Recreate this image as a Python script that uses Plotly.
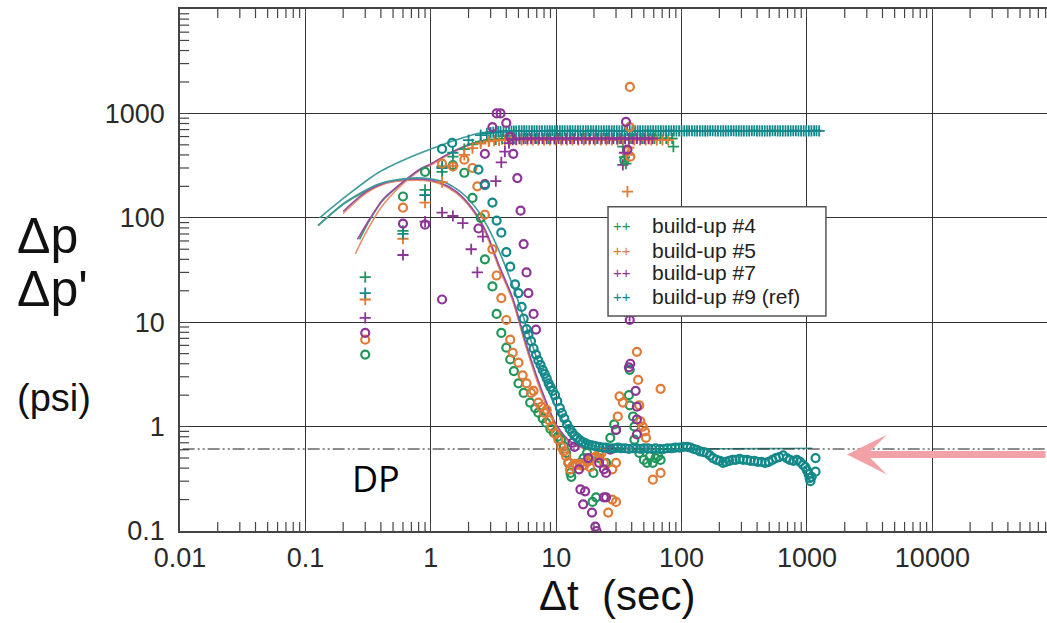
import plotly.graph_objects as go

# ---------------- data (Δt in s, Δp / Δp' in psi) ----------------
series_names = ["build-up #4", "build-up #5", "build-up #7", "build-up #9 (ref)"]
series_colors = ["#21965a", "#e07a36", "#8c3596", "#14898a"]
model_colors = ["#3d9e6e", "#e9926e", "#9a4aa2", "#3f9a9a"]

dp_level = 0.61  # DP (dash-dot line)

x_tick_vals = [0.01, 0.1, 1, 10, 100, 1000, 10000]
x_tick_text = ["0.01", "0.1", "1", "10", "100", "1000", "10000"]
y_tick_vals = [0.1, 1, 10, 100, 1000]
y_tick_text = ["0.1", "1", "10", "100", "1000"]

# pressure change (crosses)
bu4_dp = [(0.30, 27), (0.60, 75), (0.90, 185), (0.90, 165), (1.23, 310), (1.23, 275), (1.5, 385),
          (1.85, 455), (2.15, 505), (2.5, 535), (2.9, 555), (3.3, 565), (3.7, 570), (4.1, 572),
          (4.6, 574), (5.1, 575), (5.7, 576), (6.3, 575), (7.0, 576), (7.8, 575), (8.7, 576),
          (9.7, 575), (10.8, 576), (12, 575), (13.4, 576), (15, 575), (16.7, 576), (18.6, 575),
          (20.7, 576), (23, 575), (25.7, 576), (28.6, 575), (31.9, 576), (35.5, 575), (39.5, 576),
          (44, 575), (49, 576), (54.6, 575), (60.8, 576), (67.7, 575), (75.4, 576), (84, 575),
          (34, 480), (35, 380), (36, 330), (86, 480)]
bu5_dp = [(0.30, 16.5), (0.60, 63), (0.90, 140), (1.23, 220), (1.5, 315), (1.85, 400), (2.15, 465),
          (2.5, 515), (2.9, 540), (3.2, 548), (3.5, 552), (3.9, 555), (4.3, 556), (4.8, 557),
          (5.3, 556), (5.9, 557), (6.5, 556), (7.2, 557), (8.0, 556), (8.9, 557), (9.9, 556),
          (11, 557), (12.2, 556), (13.5, 557), (15, 556), (16.6, 557), (18.4, 556), (20.4, 557),
          (22.6, 556), (25.1, 557), (27.8, 556), (30.8, 557), (34.2, 556), (37.9, 557), (42, 556),
          (46.6, 557), (51.7, 556), (57.3, 557), (63.5, 556), (70.4, 557), (78, 556),
          (37, 178), (37, 400), (38, 470)]
bu7_dp = [(0.30, 11), (0.60, 44), (0.90, 92), (1.23, 112), (1.5, 104), (1.8, 89), (2.1, 50),
          (2.35, 30), (2.6, 66), (3.3, 225), (3.65, 340), (3.9, 430), (4.2, 520), (4.5, 560),
          (4.8, 568), (5.1, 572), (5.5, 574), (5.9, 575), (6.3, 574), (6.8, 575), (7.3, 574),
          (7.8, 575), (8.4, 574), (9, 575), (9.7, 574), (10.4, 575), (11.2, 574), (12, 575),
          (12.9, 574), (13.9, 575), (14.9, 574), (16, 575), (17.2, 574), (18.5, 575), (19.9, 574),
          (21.4, 575), (23, 574), (24.7, 575), (26.5, 574), (28.5, 575), (30.6, 574), (32.9, 575),
          (35.4, 574), (38, 575), (40.9, 574), (44, 575), (47.3, 574), (50.8, 575), (54.6, 574),
          (58.7, 575), (34, 321), (35, 420), (38.5, 11.5)]
bu9_dp = [(0.30, 19), (0.60, 70), (0.90, 165), (1.23, 300), (1.5, 420), (2.0, 555), (2.5, 620),
          (2.8, 645), (3.0, 655), (3.15, 660), (3.3, 665), (3.45, 668), (3.6, 670), (3.8, 672),
          (4.0, 674), (4.2, 675), (4.4, 676), (4.6, 677), (4.8, 678), (5.05, 679), (5.3, 679),
          (5.55, 680), (5.8, 680), (6.1, 680), (6.4, 680), (6.7, 681), (7.0, 681), (7.35, 680),
          (7.7, 680), (8.1, 681), (8.5, 681), (8.9, 682), (9.3, 682), (9.75, 681), (10.2, 681),
          (10.7, 680), (11.2, 680), (11.7, 681), (12.3, 681), (12.9, 682), (13.5, 682), (14.2, 681),
          (14.9, 681), (15.6, 680), (16.4, 680), (17.2, 681), (18.0, 681), (18.9, 682), (19.8, 682),
          (20.8, 681), (21.8, 680), (22.9, 681), (24.0, 681), (25.2, 682), (26.4, 682), (27.7, 681),
          (29.0, 681), (30.4, 680), (31.9, 680), (33.5, 681), (35.1, 681), (36.8, 682), (38.6, 682),
          (40.5, 681), (42.5, 681), (44.6, 680), (46.7, 680), (49.0, 681), (51.4, 681), (53.9, 682),
          (56.5, 682), (59.3, 681), (62.2, 681), (65.3, 680), (68.4, 680), (71.7, 681), (75.2, 681),
          (79.0, 682), (82.8, 682), (86.8, 681), (91, 681), (95.5, 680), (100, 680), (105, 681),
          (110, 681), (115, 682), (121, 682), (127, 681), (133, 681), (140, 680), (147, 680),
          (154, 681), (161, 681), (169, 682), (177, 682), (186, 681), (195, 681), (205, 680),
          (215, 680), (225, 681), (236, 681), (248, 682), (260, 682), (273, 681), (286, 681),
          (300, 680), (314, 680), (330, 681), (346, 681), (363, 682), (380, 682), (399, 681),
          (418, 681), (439, 680), (460, 680), (483, 681), (506, 681), (531, 682), (557, 682),
          (584, 681), (612, 681), (642, 680), (674, 680), (707, 681), (741, 681), (777, 682),
          (815, 682), (855, 681), (897, 681), (941, 680), (986, 680), (1035, 681), (1085, 681),
          (1140, 682), (1190, 682), (1250, 681)]

# pressure derivative (circles)
bu4_der = [(0.30, 4.9), (0.60, 160), (0.90, 275), (1.5, 320), (1.85, 270), (2.15, 155), (2.5, 100),
           (2.7, 40), (3.1, 22), (3.35, 12), (3.65, 7.9), (4.0, 5.7), (4.3, 4.4), (4.6, 3.4),
           (5.0, 2.6), (5.5, 2.1), (6.2, 1.7), (6.8, 1.5), (7.2, 1.36), (7.8, 1.2), (8.3, 1.09),
           (9.0, 0.95), (9.6, 0.87), (10.3, 0.8), (10.9, 0.75), (11.5, 0.65), (12, 0.56),
           (12.5, 0.45), (13, 0.36), (13.2, 0.33), (15.6, 0.45), (16.5, 0.5), (17.6, 0.56),
           (18.5, 0.48), (19.8, 0.36), (19.5, 0.19), (20.8, 0.21), (22, 0.5), (25, 0.45),
           (27, 0.78), (29, 1.05), (30, 0.93), (35, 355), (38.6, 3.5), (38, 2.0), (38.6, 1.6),
           (41, 1.25), (42, 1.0), (42, 0.75), (46, 0.56), (50, 0.48), (53, 0.45), (56, 0.52),
           (59, 0.45), (62, 0.5), (65, 0.52), (68, 0.48)]
bu5_der = [(0.30, 6.8), (0.60, 125), (1.23, 330), (1.5, 310), (1.85, 360), (2.15, 300), (2.35, 200),
           (2.7, 107), (3.1, 50), (3.35, 28), (3.65, 17), (4.0, 10.5), (4.3, 6.8), (4.5, 5.1),
           (5.0, 4.1), (5.4, 3.1), (5.8, 2.6), (6.3, 2.1), (6.6, 2.2), (7.2, 1.7), (7.6, 1.55),
           (8.0, 1.36), (8.4, 1.45), (8.8, 1.15), (9.2, 1.0), (9.9, 0.85), (10.4, 0.75), (11, 0.64),
           (11.5, 0.58), (12, 0.52), (12.5, 0.46), (12.9, 0.39), (13.5, 0.42), (14.1, 0.44),
           (14.7, 0.43), (15.5, 0.44), (16.2, 0.42), (16.8, 0.43), (17.7, 0.46), (18.6, 0.48),
           (18.6, 0.41), (19.6, 0.5), (20.8, 0.52), (22, 0.55), (23, 0.56), (24, 0.45), (26, 0.15),
           (28, 0.39), (28, 0.2), (30, 0.45), (30, 0.19), (31, 1.25), (32, 1.95), (34, 1.7),
           (38.7, 1795), (38.5, 740), (39, 385), (44, 5.2), (45, 2.8), (46, 1.6), (47, 1.12),
           (49, 1.0), (51, 0.9), (52, 0.78), (59, 0.31), (68, 0.36), (68, 2.3)]
bu7_der = [(0.30, 7.9), (0.60, 88), (0.90, 86), (1.23, 16.5), (2.4, 79), (2.7, 210), (2.7, 410),
           (3.1, 740), (3.35, 1000), (3.6, 1000), (4.0, 810), (4.3, 600), (4.55, 410), (4.9, 240),
           (5.2, 117), (5.5, 56), (5.8, 30), (6.0, 19), (6.6, 12), (6.9, 8.5), (13.5, 0.7),
           (14, 0.64), (15.2, 0.39), (15.6, 0.25), (16.4, 0.18), (17, 0.24), (18, 0.5), (19.3, 0.15),
           (20.5, 0.11), (21, 0.1), (22, 0.45), (24, 0.21), (25, 0.21), (24, 0.39), (25, 0.36),
           (27, 0.6), (30, 0.93), (38, 3.7), (39, 4.0), (43, 2.2), (44, 1.55), (44, 1.17),
           (44, 0.84), (36, 830), (37, 450), (38.6, 10.5)]
bu9_der = [(1.23, 457), (1.48, 522), (2.4, 290), (2.7, 205), (3.1, 140), (3.35, 94), (3.65, 72),
           (4.0, 47), (4.3, 34), (4.7, 23), (5.0, 19), (5.3, 14), (5.5, 10.8), (5.8, 8.6), (6.0, 7.6),
           (6.3, 6.6), (6.6, 5.6), (6.9, 4.9), (7.2, 4.3), (7.5, 3.9), (7.8, 3.5), (8.1, 3.2),
           (8.4, 2.9), (8.7, 2.6), (9.0, 2.4), (9.4, 2.2), (9.8, 2.0), (10.2, 1.75), (10.7, 1.5),
           (11.1, 1.35), (11.6, 1.2), (12.2, 1.05), (12.8, 0.95), (13.4, 0.88), (14.0, 0.82),
           (14.7, 0.78), (15.5, 0.74), (16.3, 0.71), (17.2, 0.69), (18.2, 0.67), (19.3, 0.66),
           (20.5, 0.65), (22, 0.64), (23.5, 0.63), (25, 0.63), (27, 0.62), (29, 0.62), (31, 0.63),
           (33, 0.62), (35.5, 0.62), (38, 0.61), (41, 0.62), (44, 0.62), (47, 0.61), (50, 0.62),
           (54, 0.62), (58, 0.61), (62, 0.62), (67, 0.61), (72, 0.61), (77, 0.62), (83, 0.62),
           (89, 0.63), (96, 0.63), (103, 0.64), (111, 0.64), (118, 0.63), (125, 0.61), (132, 0.6),
           (140, 0.58), (150, 0.57), (159, 0.56), (168, 0.53), (178, 0.5), (190, 0.48), (202, 0.47),
           (214, 0.45), (226, 0.46), (240, 0.47), (255, 0.48), (270, 0.48), (290, 0.49), (310, 0.48),
           (333, 0.48), (355, 0.47), (380, 0.47), (405, 0.46), (435, 0.46), (465, 0.45), (495, 0.46),
           (530, 0.48), (565, 0.5), (600, 0.51), (645, 0.53), (690, 0.5), (730, 0.48), (780, 0.47),
           (830, 0.48), (880, 0.46), (930, 0.43), (970, 0.41), (1000, 0.38), (1030, 0.35),
           (1050, 0.32), (1065, 0.3), (1090, 0.33), (1170, 0.5), (1170, 0.37)]

# model curves
m4_dp = [(0.27, 62), (0.33, 98), (0.42, 150), (0.57, 207), (0.82, 290), (1.0, 325), (1.5, 430),
         (2.47, 540), (3.6, 560), (6, 570), (80, 570)]
m5_dp = [(0.25, 45), (0.3, 70), (0.4, 125), (0.57, 200), (0.82, 285), (1.0, 320), (1.5, 425),
         (2.47, 535), (3.6, 555), (6, 560), (80, 560)]
m7_dp = [(0.26, 62), (0.33, 100), (0.42, 152), (0.57, 210), (0.82, 292), (1.0, 328), (1.5, 432),
         (2.47, 542), (3.6, 562), (6, 572), (60, 572)]
m9_dp = [(0.13, 100), (0.21, 160), (0.38, 270), (0.72, 390), (1.18, 490), (1.85, 590),
         (2.47, 650), (3.35, 670), (5, 678), (1200, 680)]
m4_der = [(0.126, 84), (0.21, 140), (0.39, 207), (0.65, 232), (0.87, 232), (1.18, 215), (1.6, 175),
          (2.15, 120), (2.75, 72), (3.5, 34), (4.5, 16.5), (5.8, 5.8), (7.5, 2.3), (10, 1.0),
          (13, 0.7), (17, 0.62), (25, 0.61), (80, 0.61)]
m5_der = [(0.2, 110), (0.3, 170), (0.45, 215), (0.65, 228), (0.87, 228), (1.18, 212), (1.6, 172),
          (2.15, 118), (2.75, 70), (3.5, 33), (4.5, 16), (5.8, 5.6), (7.5, 2.2), (10, 0.98),
          (13, 0.7), (17, 0.62), (25, 0.61), (80, 0.61)]
m7_der = [(0.2, 115), (0.3, 175), (0.45, 220), (0.65, 234), (0.87, 234), (1.18, 218), (1.6, 178),
          (2.15, 122), (2.75, 74), (3.5, 35), (4.5, 17), (5.8, 6), (7.5, 2.4), (10, 1.05),
          (13, 0.72), (17, 0.63), (25, 0.62), (60, 0.62)]
m9_der = [(0.126, 84), (0.21, 142), (0.39, 212), (0.7, 240), (0.95, 238), (1.3, 218), (1.8, 170),
          (2.4, 115), (3.0, 72), (3.8, 38), (4.8, 18), (6.0, 8), (7.5, 3.5), (9.5, 1.7),
          (12.2, 1.0), (14.7, 0.8), (18.6, 0.67), (25, 0.63), (1100, 0.62)]


def unzip(pairs):
    return [p[0] for p in pairs], [p[1] for p in pairs]


dp_sets = [bu4_dp, bu5_dp, bu7_dp, bu9_dp]
der_sets = [bu4_der, bu5_der, bu7_der, bu9_der]
mdp_sets = [m4_dp, m5_dp, m7_dp, m9_dp]
mder_sets = [m4_der, m5_der, m7_der, m9_der]

x_range = [-2, 4.914]
y_range = [-1, 4]
x_min, x_max = 10 ** x_range[0], 10 ** x_range[1]
y_min, y_max = 10 ** y_range[0], 10 ** y_range[1]

fig = go.Figure()

# minor log ticks (2..9 of each decade): short markers centred on the frame, half clipped away
minor_x = [m * 10.0 ** e for e in range(-2, 5) for m in range(2, 10) if m * 10.0 ** e < x_max]
minor_y = [m * 10.0 ** e for e in range(-1, 4) for m in range(2, 10)]
tick_mark = dict(size=13, color="#444", line=dict(color="#444", width=1.2))
fig.add_trace(go.Scatter(x=minor_x + minor_x, y=[y_min] * len(minor_x) + [y_max] * len(minor_x),
                         mode="markers", marker=dict(tick_mark, symbol="line-ns"),
                         hoverinfo="skip", showlegend=False, cliponaxis=True))
fig.add_trace(go.Scatter(x=[x_min] * len(minor_y), y=minor_y, mode="markers",
                         marker=dict(tick_mark, symbol="line-ew"),
                         hoverinfo="skip", showlegend=False, cliponaxis=True))

# model lines
for i in range(4):
    for s in (mdp_sets[i], mder_sets[i]):
        x, y = unzip(s)
        fig.add_trace(go.Scatter(x=x, y=y, mode="lines", line=dict(color=model_colors[i], width=1.6,
                                 shape="spline", smoothing=0.8), hoverinfo="skip", showlegend=False))

# DP level line
fig.add_trace(go.Scatter(x=[0.0105, 100000], y=[dp_level, dp_level], mode="lines",
                         line=dict(color="#1a1a1a", width=1.1, dash="12px,3px,2px,3px,2px,3px"),
                         showlegend=False, hoverinfo="skip"))

# crosses (Δp)
for i in range(4):
    x, y = unzip(dp_sets[i])
    fig.add_trace(go.Scatter(x=x, y=y, mode="markers", name=series_names[i], showlegend=False,
                             marker=dict(symbol="cross-thin", size=8,
                                         line=dict(color=series_colors[i], width=1.8))))
# circles (Δp')
for i in range(4):
    x, y = unzip(der_sets[i])
    fig.add_trace(go.Scatter(x=x, y=y, mode="markers", showlegend=False,
                             marker=dict(symbol="circle-open", size=8, color=series_colors[i],
                                         line=dict(color=series_colors[i], width=2.2))))

tick_font = dict(family="Liberation Sans, Arial, sans-serif", size=27, color="#2a2a2a")
axis_common = dict(type="log", ticks="inside", ticklen=8, tickwidth=1.2, tickcolor="#444",
                   showline=True, linecolor="#444", linewidth=1.5, showgrid=True,
                   gridcolor="#333333", gridwidth=1.4, zeroline=False, tickfont=tick_font)

fig.update_layout(
    width=1047, height=623,
    margin=dict(l=180, r=0, t=9, b=92),
    paper_bgcolor="white", plot_bgcolor="white",
    showlegend=False,
    xaxis=dict(axis_common, range=x_range, tickmode="array", tickvals=x_tick_vals,
               ticktext=x_tick_text, mirror="ticks", ticklabelstandoff=2),
    yaxis=dict(axis_common, range=y_range, tickmode="array", tickvals=y_tick_vals,
               ticktext=y_tick_text, mirror=False, ticklabelstandoff=8),
)

# legend box
leg_x0, leg_x1, leg_y0, leg_y1 = 0.4937, 0.745, 0.412, 0.621
fig.add_shape(type="rect", xref="paper", yref="paper", x0=leg_x0, x1=leg_x1, y0=leg_y0,
              y1=leg_y1, line=dict(color="#555", width=1.5), fillcolor="white", layer="above")

lab_font = "Liberation Sans, Arial, sans-serif"
ann = [
    dict(text="Δp", x=-0.19, y=0.565, xref="paper", yref="paper", xanchor="left", yanchor="middle",
         showarrow=False, font=dict(family=lab_font, size=50, color="#111")),
    dict(text="Δp'", x=-0.19, y=0.463, xref="paper", yref="paper", xanchor="left", yanchor="middle",
         showarrow=False, font=dict(family=lab_font, size=50, color="#111")),
    dict(text="(psi)", x=-0.19, y=0.255, xref="paper", yref="paper", xanchor="left", yanchor="middle",
         showarrow=False, font=dict(family=lab_font, size=38, color="#111")),
    dict(text="Δt  (sec)", x=0.504, y=-0.1245, xref="paper", yref="paper", xanchor="center",
         yanchor="middle", showarrow=False, font=dict(family=lab_font, size=42, color="#111")),
    dict(text="DP", x=0.226, y=0.1015, xref="paper", yref="paper", xanchor="center", yanchor="middle",
         showarrow=False, font=dict(family="Open Sans, sans-serif", size=36, color="#000")),
    # pink arrow pointing at the DP level
    dict(text="", x=3.319, y=-0.268, xref="x", yref="y", showarrow=True, ax=220, ay=0,
         arrowhead=3, arrowwidth=7, arrowsize=0.95, arrowcolor="#f2a1a7"),
]

row_y = [0.5843, 0.5383, 0.4943, 0.4483]
for i in range(4):
    ann.append(dict(text="++", x=0.5098, y=row_y[i], xref="paper", yref="paper", xanchor="center",
                    yanchor="middle", showarrow=False,
                    font=dict(family=lab_font, size=15, color=series_colors[i])))
    ann.append(dict(text=series_names[i], x=0.5421, y=row_y[i], xref="paper", yref="paper",
                    xanchor="left", yanchor="middle", showarrow=False,
                    font=dict(family=lab_font, size=21, color="#222")))

fig.update_layout(annotations=ann)
fig.write_html("out.html")
